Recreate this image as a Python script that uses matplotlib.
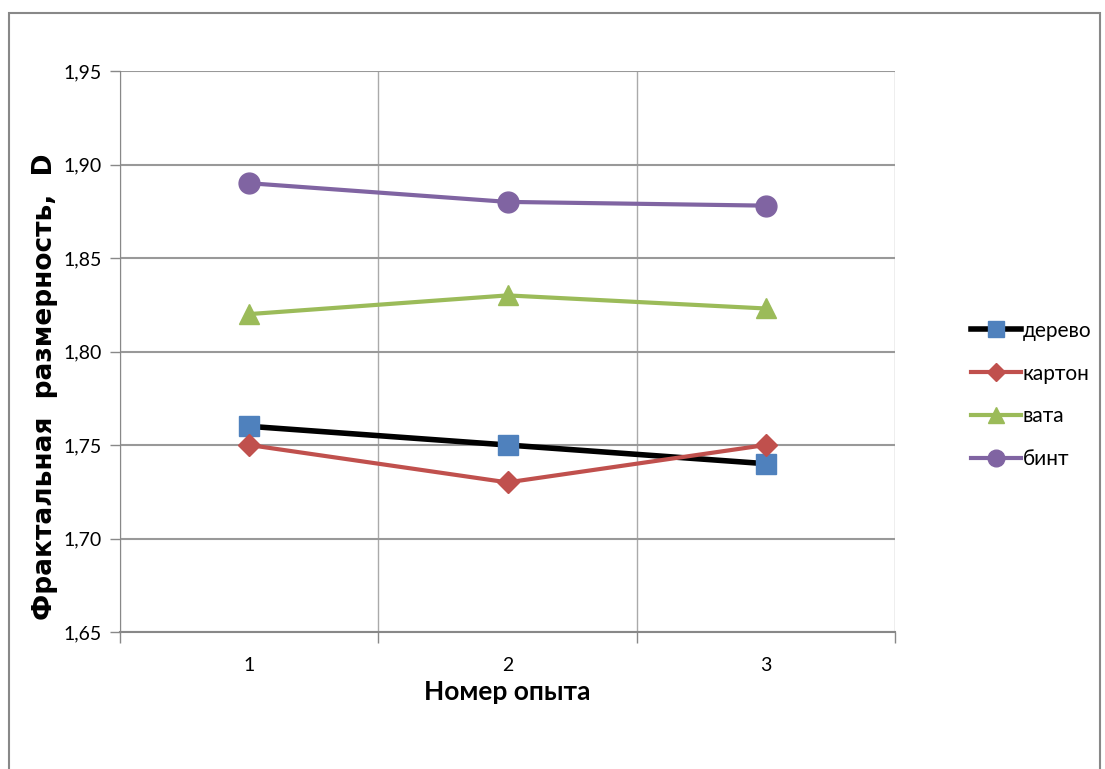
import matplotlib
matplotlib.use("Agg")
import matplotlib.pyplot as plt
from matplotlib.patches import Rectangle
from matplotlib.ticker import FixedLocator, FuncFormatter

plt.rcParams['font.family'] = ['Lato', 'DejaVu Sans']

experiments = [1, 2, 3]
derevo = [1.76, 1.75, 1.74]
karton = [1.75, 1.73, 1.75]
vata = [1.82, 1.83, 1.823]
bint = [1.89, 1.88, 1.878]
labels = ['дерево', 'картон', 'вата', 'бинт']
yticks = [1.65, 1.70, 1.75, 1.80, 1.85, 1.90, 1.95]

W, H = 1105, 769
fig = plt.figure(figsize=(W / 100, H / 100), dpi=100)
ax = fig.add_axes([120 / W, (H - 632) / H, (895 - 120) / W, (632 - 71) / H])

ax.plot(experiments, derevo, color='black', lw=4, marker='s', ms=15,
        mfc='#4F81BD', mec='#4F81BD', label=labels[0], zorder=3)
ax.plot(experiments, karton, color='#C0504D', lw=3, marker='D', ms=11,
        mfc='#C0504D', mec='#C0504D', label=labels[1], zorder=4)
ax.plot(experiments, vata, color='#9BBB59', lw=3, marker='^', ms=15,
        mfc='#9BBB59', mec='#9BBB59', label=labels[2], zorder=3)
ax.plot(experiments, bint, color='#8064A2', lw=3, marker='o', ms=15,
        mfc='#8064A2', mec='#8064A2', label=labels[3], zorder=3)

ax.set_xlim(0.5, 3.5)
ax.set_ylim(1.65, 1.95)
ax.set_yticks(yticks)
ax.yaxis.set_major_formatter(FuncFormatter(lambda v, p: f"{v:.2f}".replace('.', ',')))
ax.set_xticks(experiments)
ax.set_xticklabels([str(e) for e in experiments])
ax.xaxis.set_minor_locator(FixedLocator([0.5, 1.5, 2.5, 3.5]))
ax.tick_params(axis='x', which='major', length=0, labelsize=14, pad=18, colors='#000000')
ax.tick_params(axis='x', which='minor', length=8, color='#888888', width=1)
ax.tick_params(axis='y', which='major', length=7, color='#888888', width=1, labelsize=14, pad=6)
ax.grid(True, axis='y', which='major', color='#999999', lw=1.5)
ax.grid(True, axis='x', which='minor', color='#aaaaaa', lw=1)
for s in ['top', 'right']:
    ax.spines[s].set_visible(False)
ax.spines['left'].set_color('#888888')
ax.spines['bottom'].set_color('#888888')
ax.spines['bottom'].set_linewidth(1.5)
ax.set_axisbelow(True)

ax.set_xlabel('Номер опыта', fontsize=19, fontweight='bold', labelpad=4)
fig.text(45 / W, (H - 387) / H, 'Фрактальная  размерность,  D', rotation=90,
         fontsize=19, fontweight='bold', ha='center', va='center',
         family=['DejaVu Sans'])

leg = ax.legend(loc='center left', bbox_to_anchor=(952 / W, (H - 395) / H),
                bbox_transform=fig.transFigure, frameon=False, fontsize=15,
                handlelength=2.4, labelspacing=1.1, handletextpad=0.1,
                markerscale=0.8)

fig.patches.append(Rectangle((9 / W, -0.05), (1100 - 9) / W, (H - 13) / H + 0.05,
                             transform=fig.transFigure, fill=False,
                             edgecolor='#888888', lw=1.5))

fig.savefig('out.png', dpi=100)
